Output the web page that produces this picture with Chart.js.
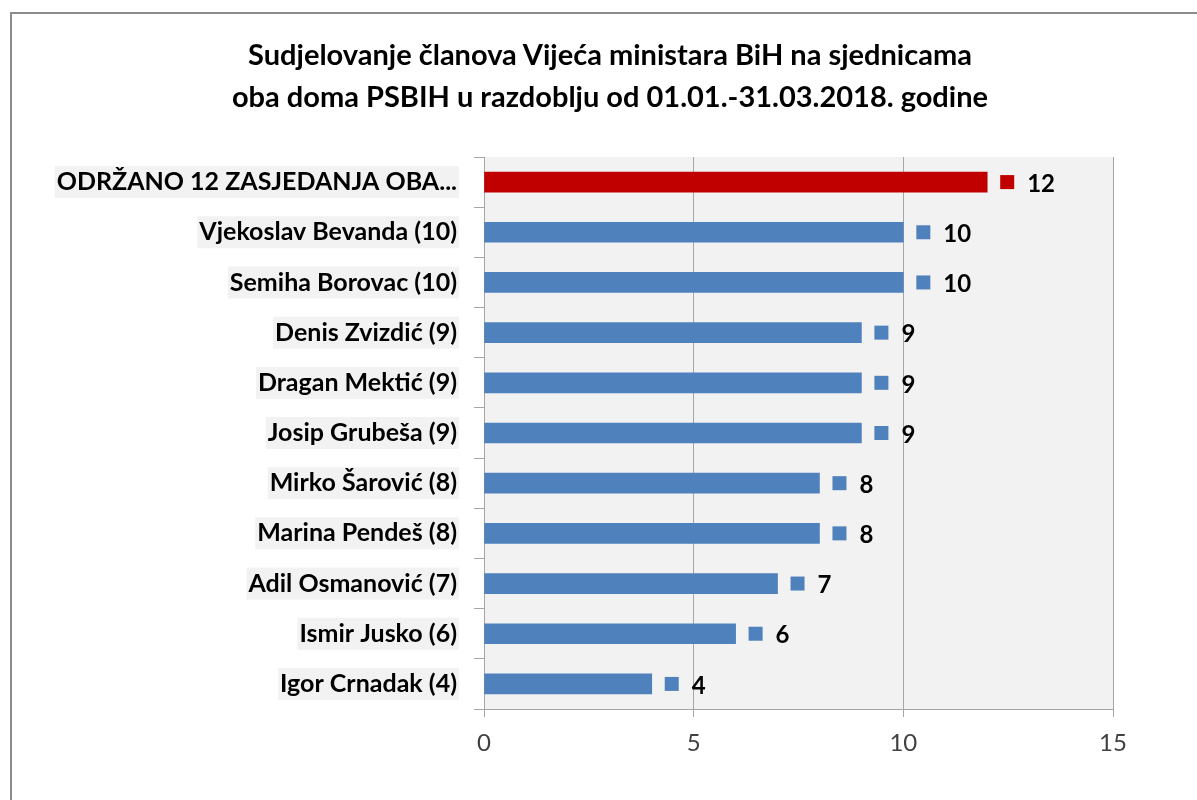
<!DOCTYPE html>
<html>
<head>
<meta charset="utf-8">
<script src="https://cdn.jsdelivr.net/npm/chart.js@4/dist/chart.umd.min.js"></script>
<style>
    html, body { margin: 0; padding: 0; background: #fff; }
    #wrap { position: relative; width: 1197px; height: 800px; overflow: hidden; }
    #frame {
        position: absolute; left: 10px; top: 12px; width: 1300px; height: 900px;
        border-left: 2px solid #8c8c8c; border-top: 2px solid #8c8c8c;
    }
    #title {
        position: absolute; left: 0; top: 33px; width: 1220px; text-align: center;
        font: bold 29px Lato, sans-serif; line-height: 42px; color: #000;
    }
    canvas { position: absolute; left: 0; top: 0; }
</style>
</head>
<body>
<div id="wrap">
    <div id="frame"></div>
    <canvas id="chart" width="1197" height="800"></canvas>
    <div id="title">Sudjelovanje članova Vijeća ministara BiH na sjednicama<br>oba doma PSBIH u razdoblju od 01.01.-31.03.2018. godine</div>
</div>
<script>
const categories = [
    "ODRŽANO 12 ZASJEDANJA OBA...",
    "Vjekoslav Bevanda (10)",
    "Semiha Borovac (10)",
    "Denis Zvizdić (9)",
    "Dragan Mektić (9)",
    "Josip Grubeša (9)",
    "Mirko Šarović (8)",
    "Marina Pendeš (8)",
    "Adil Osmanović (7)",
    "Ismir Jusko (6)",
    "Igor Crnadak (4)"
];
const sessions = [12, 10, 10, 9, 9, 9, 8, 8, 7, 6, 4];
const xTicks = [0, 5, 10, 15];

const RED = "#c00000";
const BLUE = "#4f81bd";
const barColors = categories.map((c, i) => i === 0 ? RED : BLUE);

// grey plot area behind the bars
const plotBg = {
    id: "plotBg",
    beforeDraw(chart) {
        const { ctx, chartArea: a } = chart;
        ctx.save();
        ctx.fillStyle = "#f2f2f2";
        ctx.fillRect(a.left, a.top, a.width, a.height);
        ctx.restore();
    }
};

// value labels with a small legend key in front, like Excel
const valueLabels = {
    id: "valueLabels",
    afterDatasetsDraw(chart) {
        const ctx = chart.ctx;
        const meta = chart.getDatasetMeta(0);
        ctx.save();
        ctx.font = "bold 24px Lato, sans-serif";
        ctx.textBaseline = "middle";
        ctx.textAlign = "left";
        meta.data.forEach((bar, i) => {
            ctx.fillStyle = barColors[i];
            ctx.fillRect(bar.x + 13, bar.y - 7, 14, 14);
            ctx.fillStyle = "#000";
            ctx.fillText(String(sessions[i]), bar.x + 40, bar.y + 2);
        });
        ctx.restore();
    }
};

new Chart(document.getElementById("chart"), {
    type: "bar",
    data: {
        labels: categories,
        datasets: [{
            data: sessions,
            backgroundColor: barColors,
            borderWidth: 0,
            barThickness: 20
        }]
    },
    options: {
        indexAxis: "y",
        responsive: false,
        animation: false,
        devicePixelRatio: 1,
        layout: { padding: { top: 157, right: 84, bottom: 0, left: 0 } },
        plugins: {
            legend: { display: false },
            tooltip: { enabled: false },
            title: { display: false }
        },
        scales: {
            x: {
                min: 0,
                max: 15,
                afterBuildTicks: s => { s.ticks = xTicks.map(v => ({ value: v })); },
                afterFit: s => { s.height = 91; },
                grid: { color: "#a6a6a6", tickLength: 8, tickColor: "#a6a6a6" },
                border: { color: "#a6a6a6" },
                ticks: {
                    padding: 12,
                    color: "#404040",
                    font: { family: "Lato", size: 24 }
                }
            },
            y: {
                afterFit: s => { s.width = 484; },
                grid: { drawOnChartArea: false, tickLength: 10, color: "#a6a6a6" },
                border: { color: "#a6a6a6" },
                ticks: {
                    padding: 17,
                    color: "#000",
                    autoSkip: false,
                    font: { family: "Lato", size: 25, weight: "bold" },
                    showLabelBackdrop: true,
                    backdropColor: "#f2f2f2",
                    backdropPadding: { top: 1, bottom: 1, left: 2, right: 2 }
                }
            }
        }
    },
    plugins: [plotBg, valueLabels]
});
</script>
</body>
</html>
